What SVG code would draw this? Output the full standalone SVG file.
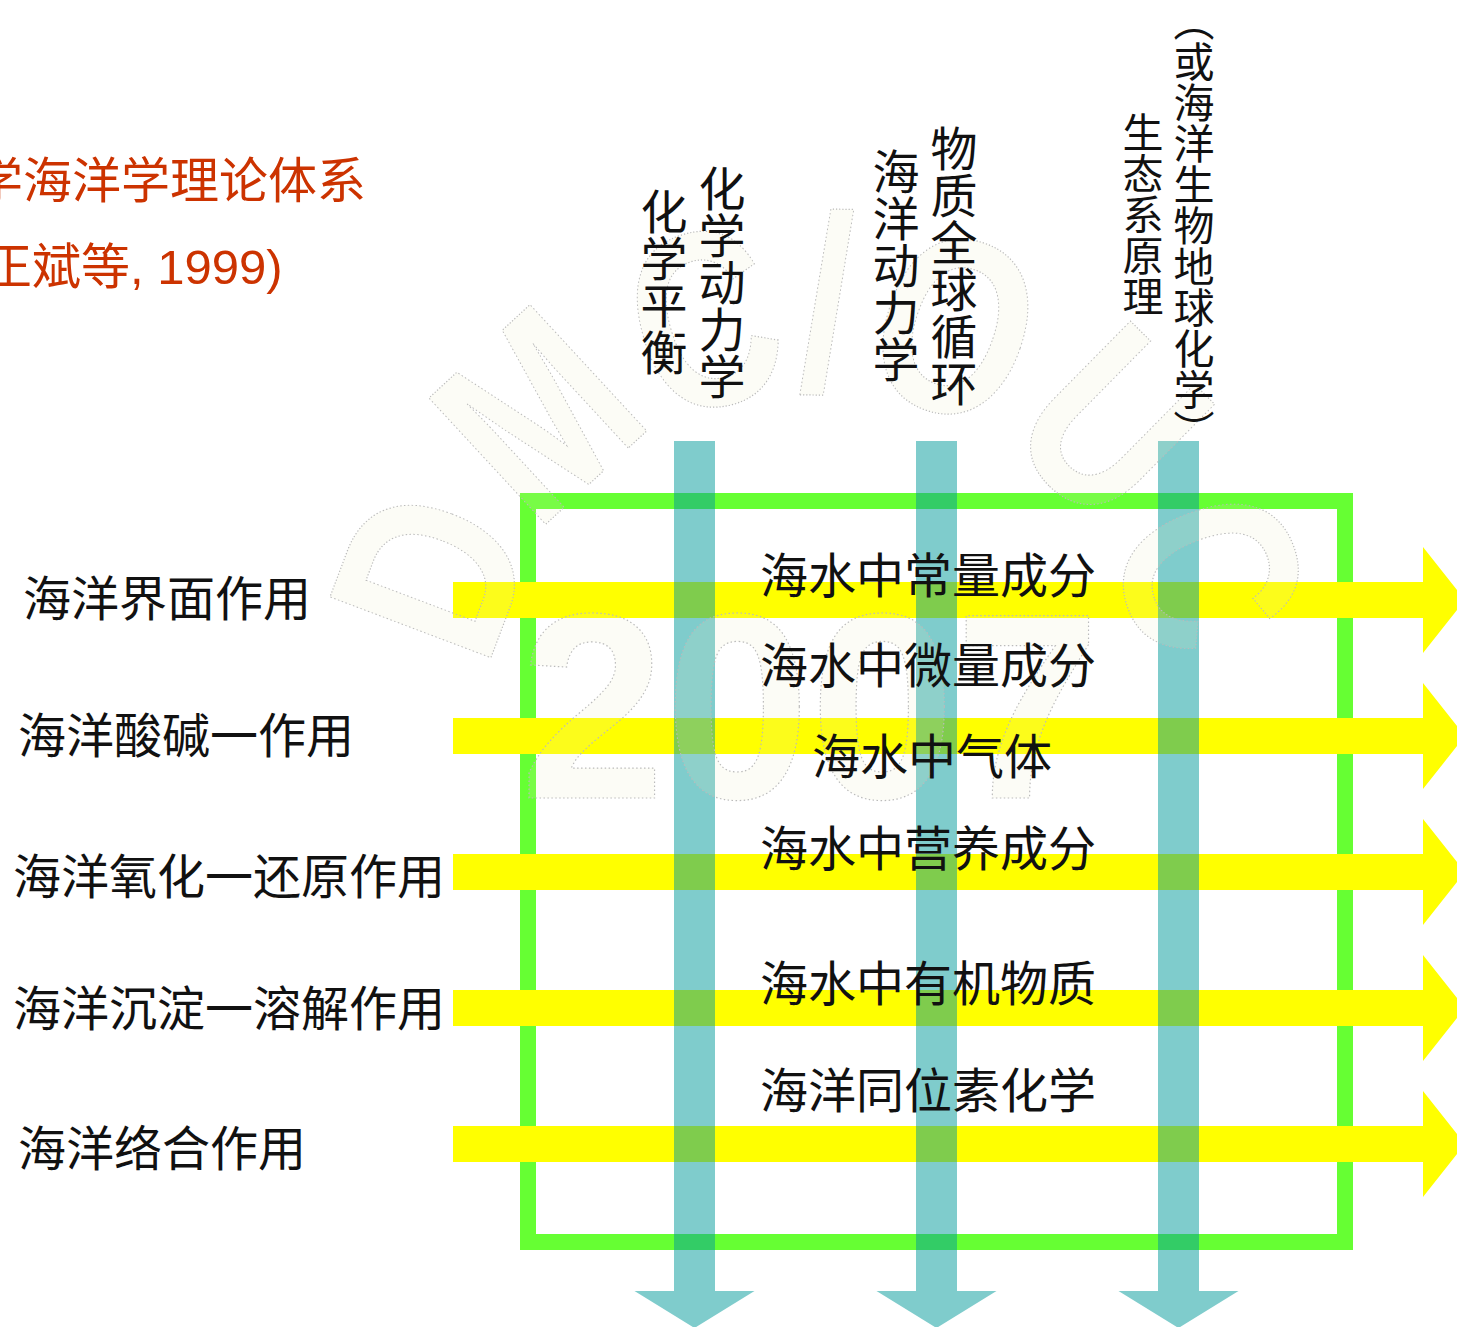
<svg xmlns="http://www.w3.org/2000/svg" width="1457" height="1327" viewBox="0 0 1457 1327">
  <style>
    .t { font-family: "Liberation Sans", "Noto Sans CJK SC", sans-serif; fill: #111; }
    .title { font-family: "Liberation Sans", "Noto Sans CJK SC", sans-serif; fill: #CC3300; font-size: 49px; }
    .h48 { font-size: 48px; }
    .v47 { font-size: 47px; writing-mode: vertical-rl; }
    .v41 { font-size: 41px; writing-mode: vertical-rl; }
    .frame { fill: none; stroke: #66FF33; stroke-width: 16; }
    .yarrow { fill: #FFFF00; }
    .barrow { fill: #009999; fill-opacity: 0.5; }
    .wm { font-family: "Liberation Sans", sans-serif; font-weight: bold; fill: #EBEBBE; fill-opacity: 0.14; stroke: #BBBBBB; stroke-width: 1.2; stroke-dasharray: 1.5 2.5; }
  </style>
  <defs>
    <polygon id="yArrow" points="453,-18 1423,-18 1423,-53 1465,0 1423,53 1423,18 453,18"/>
    <polygon id="bArrow" points="-20.5,441 20.5,441 20.5,1291 60,1291 0,1328 -60,1291 -20.5,1291"/>
    <path id="wmArc" d="M 490,720 A 330,330 0 0 1 1150,720"/>
  </defs>

  <rect width="1457" height="1327" fill="#FFFFFF"/>

  <g id="frame">
    <rect class="frame" x="528" y="501" width="817" height="741"/>
  </g>

  <g id="connectors">
    <use href="#yArrow" class="yarrow" transform="translate(0,600)"/>
    <use href="#yArrow" class="yarrow" transform="translate(0,736)"/>
    <use href="#yArrow" class="yarrow" transform="translate(0,872)"/>
    <use href="#yArrow" class="yarrow" transform="translate(0,1008)"/>
    <use href="#yArrow" class="yarrow" transform="translate(0,1144)"/>
    <use href="#bArrow" class="barrow" transform="translate(694.5,0)"/>
    <use href="#bArrow" class="barrow" transform="translate(936.5,0)"/>
    <use href="#bArrow" class="barrow" transform="translate(1178.5,0)"/>
  </g>

  <g id="watermark">
    <text class="wm" font-size="250"><textPath href="#wmArc" startOffset="50%" text-anchor="middle" textLength="940" lengthAdjust="spacingAndGlyphs">DMC/OUC</textPath></text>
    <text class="wm" font-size="265" x="520" y="798" textLength="580" lengthAdjust="spacingAndGlyphs">2007</text>
  </g>

  <g id="title">
    <text class="title" x="-26" y="198">学海洋学理论体系</text>
    <text class="title" x="-17" y="284">正斌等, 1999)</text>
  </g>

  <g id="col-labels">
    <g id="col1"><text class="t v47" x="660" y="188">化学平衡</text><text class="t v47" x="718" y="165">化学动力学</text></g>
    <g id="col2"><text class="t v47" x="892" y="148">海洋动力学</text><text class="t v47" x="950" y="125">物质全球循环</text></g>
    <g id="col3"><text class="t v41" x="1139" y="112">生态系原理</text><text class="t v41" x="1190" y="0">（或海洋生物地球化学）</text></g>
  </g>

  <g id="row-labels">
    <g id="row1"><text class="t h48" x="23" y="616">海洋界面作用</text></g>
    <g id="row2"><text class="t h48" x="18" y="753">海洋酸碱一作用</text></g>
    <g id="row3"><text class="t h48" x="13" y="894">海洋氧化一还原作用</text></g>
    <g id="row4"><text class="t h48" x="13" y="1026">海洋沉淀一溶解作用</text></g>
    <g id="row5"><text class="t h48" x="18" y="1166">海洋络合作用</text></g>
  </g>

  <g id="center-labels">
    <g id="c1"><text class="t h48" x="928" y="593" text-anchor="middle">海水中常量成分</text></g>
    <g id="c2"><text class="t h48" x="928" y="683" text-anchor="middle">海水中微量成分</text></g>
    <g id="c3"><text class="t h48" x="932" y="774" text-anchor="middle">海水中气体</text></g>
    <g id="c4"><text class="t h48" x="928" y="866" text-anchor="middle">海水中营养成分</text></g>
    <g id="c5"><text class="t h48" x="928" y="1001" text-anchor="middle">海水中有机物质</text></g>
    <g id="c6"><text class="t h48" x="928" y="1108" text-anchor="middle">海洋同位素化学</text></g>
  </g>
</svg>
